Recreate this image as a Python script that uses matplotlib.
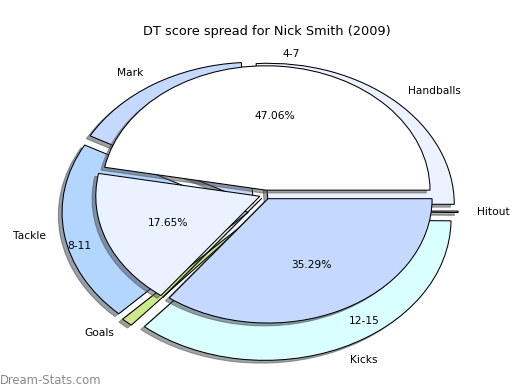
import matplotlib
matplotlib.use('Agg')
import matplotlib.pyplot as plt

# outer pie: DT points by stat type
stat_labels = ['Handballs', 'Mark', 'Tackle', 'Goals', 'Kicks', 'Hitout']
stat_points = [156, 96, 124, 6, 216, 1]
stat_colors = ['#ecf2ff', '#c5d9ff', '#b3d6ff', '#cde98c', '#d9ffff', '#f2f2f2']

# inner pie: number of games per score range
range_labels = ['4-7', '8-11', '', '12-15']
range_games = [8, 3, 0, 6]
range_colors = ['#ffffff', '#ebf2ff', '#ffffff', '#c5d9ff']

DPI = 100
SHADOW = {'ox': -0.02 * 72 / DPI, 'oy': -0.02 * 72 / DPI}
FS = 7.7

fig = plt.figure(figsize=(5.2, 3.9), dpi=DPI)
ax = fig.add_axes([0, 0, 1, 1])

ax.pie(stat_points, labels=stat_labels, colors=stat_colors,
       explode=[0.065] * len(stat_points), shadow=SHADOW,
       startangle=0, radius=1.0, labeldistance=1.1,
       wedgeprops={'edgecolor': 'black', 'linewidth': 0.75},
       textprops={'fontsize': FS})

ax.pie(range_games, labels=range_labels, colors=range_colors,
       explode=[0.032] * len(range_games), shadow=SHADOW,
       startangle=0, radius=0.882, center=(0.029, 0.116),
       autopct=lambda p: f'{p:.2f}%' if p > 0 else '',
       labeldistance=1.1, pctdistance=0.6,
       wedgeprops={'edgecolor': 'black', 'linewidth': 0.75, 'zorder': 2},
       textprops={'fontsize': FS})

# stretch the pie into an ellipse like the original
ax.set_aspect('auto')
ax.set_xlim(-260 / 186, 260 / 186)
ax.set_ylim(-179 / 141, 211 / 141)
ax.axis('off')

fig.text(266.5 / 520, 1 - 31 / 390, 'DT score spread for Nick Smith (2009)',
         ha='center', va='center', fontsize=9.3)
fig.text(0.0, 1 - 380 / 390, 'Dream-Stats.com', ha='left', va='center',
         color='#8a8a8a', fontsize=8.4)

fig.savefig('out.png', dpi=DPI)
